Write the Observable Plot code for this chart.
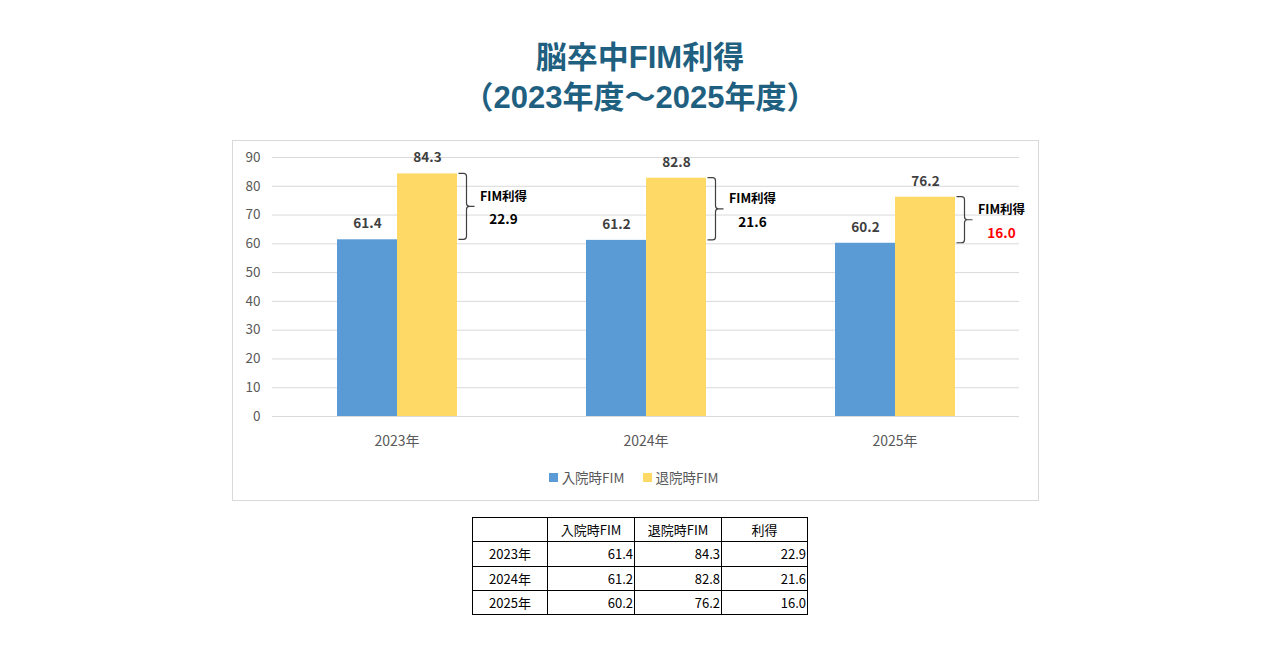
<!DOCTYPE html>
<html lang="ja">
<head>
<meta charset="utf-8">
<script src="https://cdn.jsdelivr.net/npm/d3@7"></script>
<script src="https://cdn.jsdelivr.net/npm/@observablehq/plot@0.6"></script>
<style>
  html, body { margin: 0; padding: 0; background: #fff; }
  body { width: 1280px; height: 657px; position: relative; overflow: hidden;
         font-family: "Noto Sans CJK JP", "Noto Sans", sans-serif; }
  .title { position: absolute; left: 0; width: 1280px; text-align: center;
           font-family: "Liberation Sans", "Noto Sans CJK JP", sans-serif;
           color: #1f5f7f; font-weight: 700; font-size: 31px; line-height: 36px; height: 36px; }
  #title1 { top: 40px; }
  #title2 { top: 80px; }
  #frame { position: absolute; left: 232px; top: 140px; width: 805px; height: 359px;
           border: 1px solid #d9d9d9; pointer-events: none; }
  #chart { position: absolute; left: 232px; top: 140px; }
  #legend { position: absolute; left: 230px; top: 468px; width: 807px; display: flex;
            justify-content: center; gap: 18px; font-size: 13.5px; color: #595959; line-height: 18px; }
  #legend .item { display: flex; align-items: center; gap: 4px; }
  #legend .swatch { width: 9px; height: 9px; }
  #table { position: absolute; left: 472px; top: 517px; border-collapse: collapse;
           font-size: 13px; color: #000; }
  #table td, #table th { border: 1px solid #000; height: 24.3px; padding: 0 1px; font-weight: 400;
                         box-sizing: border-box; }
  #table th { text-align: center; }
  #table td.num { text-align: right; }
  #table td.year { text-align: center; }
</style>
</head>
<body>
<div class="title" id="title1">脳卒中FIM利得</div>
<div class="title" id="title2">（2023年度～2025年度）</div>
<div id="chart"></div>
<div id="frame"></div>
<div id="legend"></div>
<table id="table"></table>
<script>
// FIM scores at admission and discharge, per fiscal year
const years = ["2023年", "2024年", "2025年"];
const seriesNames = ["入院時FIM", "退院時FIM"];
const seriesColors = ["#5b9bd5", "#ffd966"];
const admission = [61.4, 61.2, 60.2];
const discharge = [84.3, 82.8, 76.2];
const gain = [22.9, 21.6, 16.0];
const gainColors = ["#000000", "#000000", "#ff0000"];
const gainTitle = "FIM利得";
const tableHeader = ["", "入院時FIM", "退院時FIM", "利得"];
const yTicks = [0, 10, 20, 30, 40, 50, 60, 70, 80, 90];

// long-form rows for the grouped bars
const rows = years.flatMap((year, i) => [
  {year, series: seriesNames[0], value: admission[i]},
  {year, series: seriesNames[1], value: discharge[i]}
]);

// one row per year for the gain bracket next to the discharge bar
const gains = years.map((year, i) => ({
  year,
  series: seriesNames[1],
  low: admission[i],
  high: discharge[i],
  mid: (admission[i] + discharge[i]) / 2,
  gain: gain[i],
  color: gainColors[i]
}));

// a right curly bracket drawn in place of each rule line
function braceRender(index, scales, values, dimensions, context, next) {
  const g = next(index, scales, values, dimensions, context);
  const ns = "http://www.w3.org/2000/svg";
  g.querySelectorAll("line").forEach((line) => {
    const x = +line.getAttribute("x1");
    const ya = +line.getAttribute("y1");
    const yb = +line.getAttribute("y2");
    const top = Math.min(ya, yb), bot = Math.max(ya, yb), mid = (top + bot) / 2;
    const v = x + 8, r = 3, tip = x + 16;
    const d = [
      `M${x},${top}`, `L${v - r},${top}`, `Q${v},${top} ${v},${top + r}`,
      `L${v},${mid - r}`, `Q${v},${mid} ${v + r},${mid}`, `L${tip},${mid}`,
      `M${v + r},${mid}`, `Q${v},${mid} ${v},${mid + r}`,
      `L${v},${bot - r}`, `Q${v},${bot} ${v - r},${bot}`, `L${x},${bot}`
    ].join("");
    const path = document.createElementNS(ns, "path");
    path.setAttribute("d", d);
    path.setAttribute("fill", "none");
    path.setAttribute("stroke", "#404040");
    path.setAttribute("stroke-width", "1.2");
    line.replaceWith(path);
  });
  return g;
}

const chart = Plot.plot({
  width: 807,
  height: 320,
  marginTop: 17,
  marginLeft: 39,
  marginRight: 19,
  marginBottom: 44,
  style: {fontFamily: "'Noto Sans CJK JP', 'Noto Sans', sans-serif", background: "transparent", overflow: "visible"},
  fx: {domain: years, padding: 0, label: null, axis: "bottom", tickSize: 0, tickPadding: 20},
  x: {domain: seriesNames, paddingInner: 0, paddingOuter: 1.05, axis: null},
  y: {domain: [0, 90], ticks: yTicks, label: null, tickSize: 0, tickPadding: 12},
  color: {domain: seriesNames, range: seriesColors},
  marks: [
    Plot.gridY(yTicks, {stroke: "#d9d9d9", strokeOpacity: 1, strokeWidth: 1}),
    Plot.barY(rows, {fx: "year", x: "series", y: "value", fill: "series"}),
    Plot.text(rows, {
      fx: "year", x: "series", y: "value",
      text: (d) => d.value.toFixed(1),
      dy: -16, fill: "#404040", fontWeight: "bold", fontSize: 13.5
    }),
    Plot.ruleX(gains, {fx: "year", x: "series", y1: "low", y2: "high", dx: 31, render: braceRender}),
    Plot.text(gains, {
      fx: "year", x: "series", y: "mid", text: () => gainTitle,
      dx: 76, dy: -10, fill: "#000", fontWeight: "bold", fontSize: 12.5
    }),
    Plot.text(gains, {
      fx: "year", x: "series", y: "mid", text: (d) => d.gain.toFixed(1),
      dx: 76, dy: 13, fill: "color", fontWeight: "bold", fontSize: 13.5
    })
  ]
});
chart.querySelectorAll("g[aria-label='fx-axis tick label'] text, g[aria-label='y-axis tick label'] text").forEach(t => {
  t.setAttribute("fill", "#595959");
});
chart.querySelectorAll("g[aria-label='fx-axis tick label']").forEach(g => g.setAttribute("font-size", "14"));
chart.querySelectorAll("g[aria-label='y-axis tick label']").forEach(g => g.setAttribute("font-size", "13.5"));
document.getElementById("chart").append(chart);

// legend built from the series names and colours
const legend = d3.select("#legend");
seriesNames.forEach((name, i) => {
  const item = legend.append("div").attr("class", "item");
  item.append("div").attr("class", "swatch").style("background", seriesColors[i]);
  item.append("span").text(name);
});

// data table below the chart
const table = d3.select("#table");
const widths = [75, 87, 87, 86];
const head = table.append("tr");
tableHeader.forEach((h, j) => head.append("th").style("width", widths[j] + "px").text(h));
years.forEach((year, i) => {
  const tr = table.append("tr");
  tr.append("td").attr("class", "year").text(year);
  [admission[i], discharge[i], gain[i]].forEach(v => tr.append("td").attr("class", "num").text(v.toFixed(1)));
});
</script>
</body>
</html>
